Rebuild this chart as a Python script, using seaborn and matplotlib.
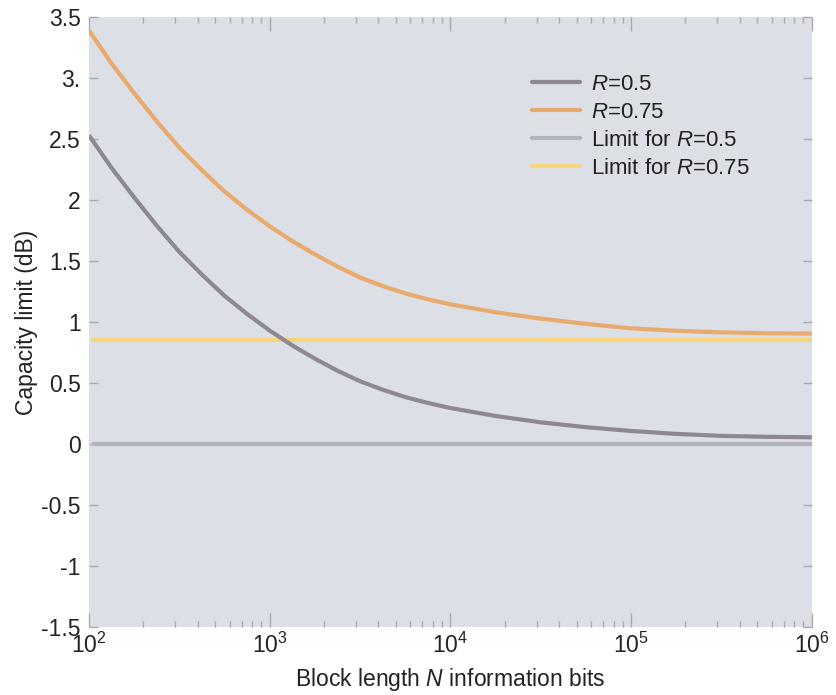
import numpy as np
import pandas as pd
import matplotlib
matplotlib.use("Agg")
import matplotlib.pyplot as plt
import seaborn as sns
from matplotlib.ticker import LogLocator, FixedLocator, FixedFormatter, NullFormatter

# Block lengths (information bits): eighth-decade steps up to 1e4, quarter-decade after
block_len = [100, 133, 178, 237, 316, 422, 562, 750, 1000, 1334, 1778, 2371,
             3162, 4217, 5623, 7499, 10000, 17783, 31623, 56234, 100000,
             177828, 316228, 562341, 1000000]

# Capacity limit (dB) for rate 1/2 and rate 3/4 codes
cap_r050 = [2.53, 2.265, 2.02, 1.79, 1.575, 1.388, 1.215, 1.066, 0.93, 0.808,
            0.70, 0.601, 0.515, 0.445, 0.385, 0.337, 0.295, 0.230, 0.178,
            0.138, 0.107, 0.083, 0.067, 0.059, 0.055]
cap_r075 = [3.39, 3.12, 2.875, 2.645, 2.43, 2.243, 2.07, 1.92, 1.785, 1.663,
            1.555, 1.455, 1.365, 1.295, 1.235, 1.186, 1.145, 1.08, 1.028,
            0.985, 0.948, 0.928, 0.915, 0.908, 0.905]

# Asymptotic (infinite block length) limits
limit_ends = [104, 1000000]
limit_r050 = [0.0, 0.0]
limit_r075 = [0.85, 0.85]

series_names = ["$R$=0.5", "$R$=0.75", "Limit for $R$=0.5", "Limit for $R$=0.75"]
series_colors = ["#8d8892", "#e9aa6e", "#b1b4be", "#f5d67a"]

ytick_vals = [-1.5, -1, -0.5, 0, 0.5, 1, 1.5, 2, 2.5, 3, 3.5]
ytick_text = ["-1.5", "-1", "-0.5", "0", "0.5", "1", "1.5", "2", "2.5", "3.", "3.5"]

sns.set_theme(style="white")
plt.rcParams["font.family"] = ["Liberation Sans", "DejaVu Sans"]
plt.rcParams["mathtext.fontset"] = "custom"
plt.rcParams["mathtext.rm"] = "Liberation Sans"
plt.rcParams["mathtext.it"] = "Liberation Sans:italic"
plt.rcParams["mathtext.bf"] = "Liberation Sans:bold"

FS = 16.5
TXT = "#222222"

df_curves = pd.DataFrame({
    "N": block_len * 2,
    "cap": cap_r050 + cap_r075,
    "series": [series_names[0]] * len(block_len) + [series_names[1]] * len(block_len),
})
df_limits = pd.DataFrame({
    "N": limit_ends * 2,
    "cap": limit_r050 + limit_r075,
    "series": [series_names[2]] * 2 + [series_names[3]] * 2,
})

fig = plt.figure(figsize=(8.36, 6.95), dpi=100)
ax = fig.add_axes([0.1065, 0.0978, 0.8645, 0.8777])
ax.set_facecolor("#dcdfe6")

sns.lineplot(data=df_limits, x="N", y="cap", hue="series",
             hue_order=series_names[2:], palette=series_colors[2:],
             linewidth=3.0, ax=ax, legend=False, zorder=2)
sns.lineplot(data=df_curves, x="N", y="cap", hue="series",
             hue_order=series_names[:2], palette=series_colors[:2],
             linewidth=3.0, ax=ax, legend=False, zorder=3)
for ln in ax.get_lines():
    ln.set_solid_joinstyle("round")
    ln.set_solid_capstyle("butt")

ax.set_xscale("log")
ax.set_xlim(100, 1.0e6)
ax.set_ylim(-1.5, 3.5)

for s in ax.spines.values():
    s.set_visible(False)

tick_col = "#a7aab3"
ax.xaxis.set_major_locator(LogLocator(base=10, numticks=10))
ax.xaxis.set_minor_locator(LogLocator(base=10, subs=np.arange(2, 10), numticks=10))
ax.xaxis.set_minor_formatter(NullFormatter())
ax.tick_params(axis="x", which="major", direction="in", length=10, width=1,
               color=tick_col, top=True, bottom=True, labelsize=FS,
               labelcolor=TXT, pad=4)
ax.tick_params(axis="x", which="minor", direction="in", length=4.5, width=1,
               color=tick_col, top=True, bottom=True)

ax.yaxis.set_major_locator(FixedLocator(ytick_vals))
ax.yaxis.set_major_formatter(FixedFormatter(ytick_text))
ax.tick_params(axis="y", which="major", direction="in", length=6.5, width=1,
               color=tick_col, left=True, right=True, labelsize=FS,
               labelcolor=TXT, pad=6)
ax.grid(False)

ax.set_xlabel("Block length $N$ information bits", fontsize=FS,
              color=TXT, labelpad=6)
ax.set_ylabel("Capacity limit (dB)", fontsize=FS, color=TXT, labelpad=2)

handles = [plt.Line2D([], [], color=c, linewidth=3.0) for c in series_colors]
leg = ax.legend(handles, series_names, loc="upper left",
                bbox_to_anchor=(0.6127, 0.9066), frameon=False, fontsize=16,
                borderpad=0, borderaxespad=0,
                handlelength=2.16, handletextpad=0.5, labelspacing=0.31)
for t in leg.get_texts():
    t.set_color(TXT)

fig.savefig("out.png", dpi=100)
